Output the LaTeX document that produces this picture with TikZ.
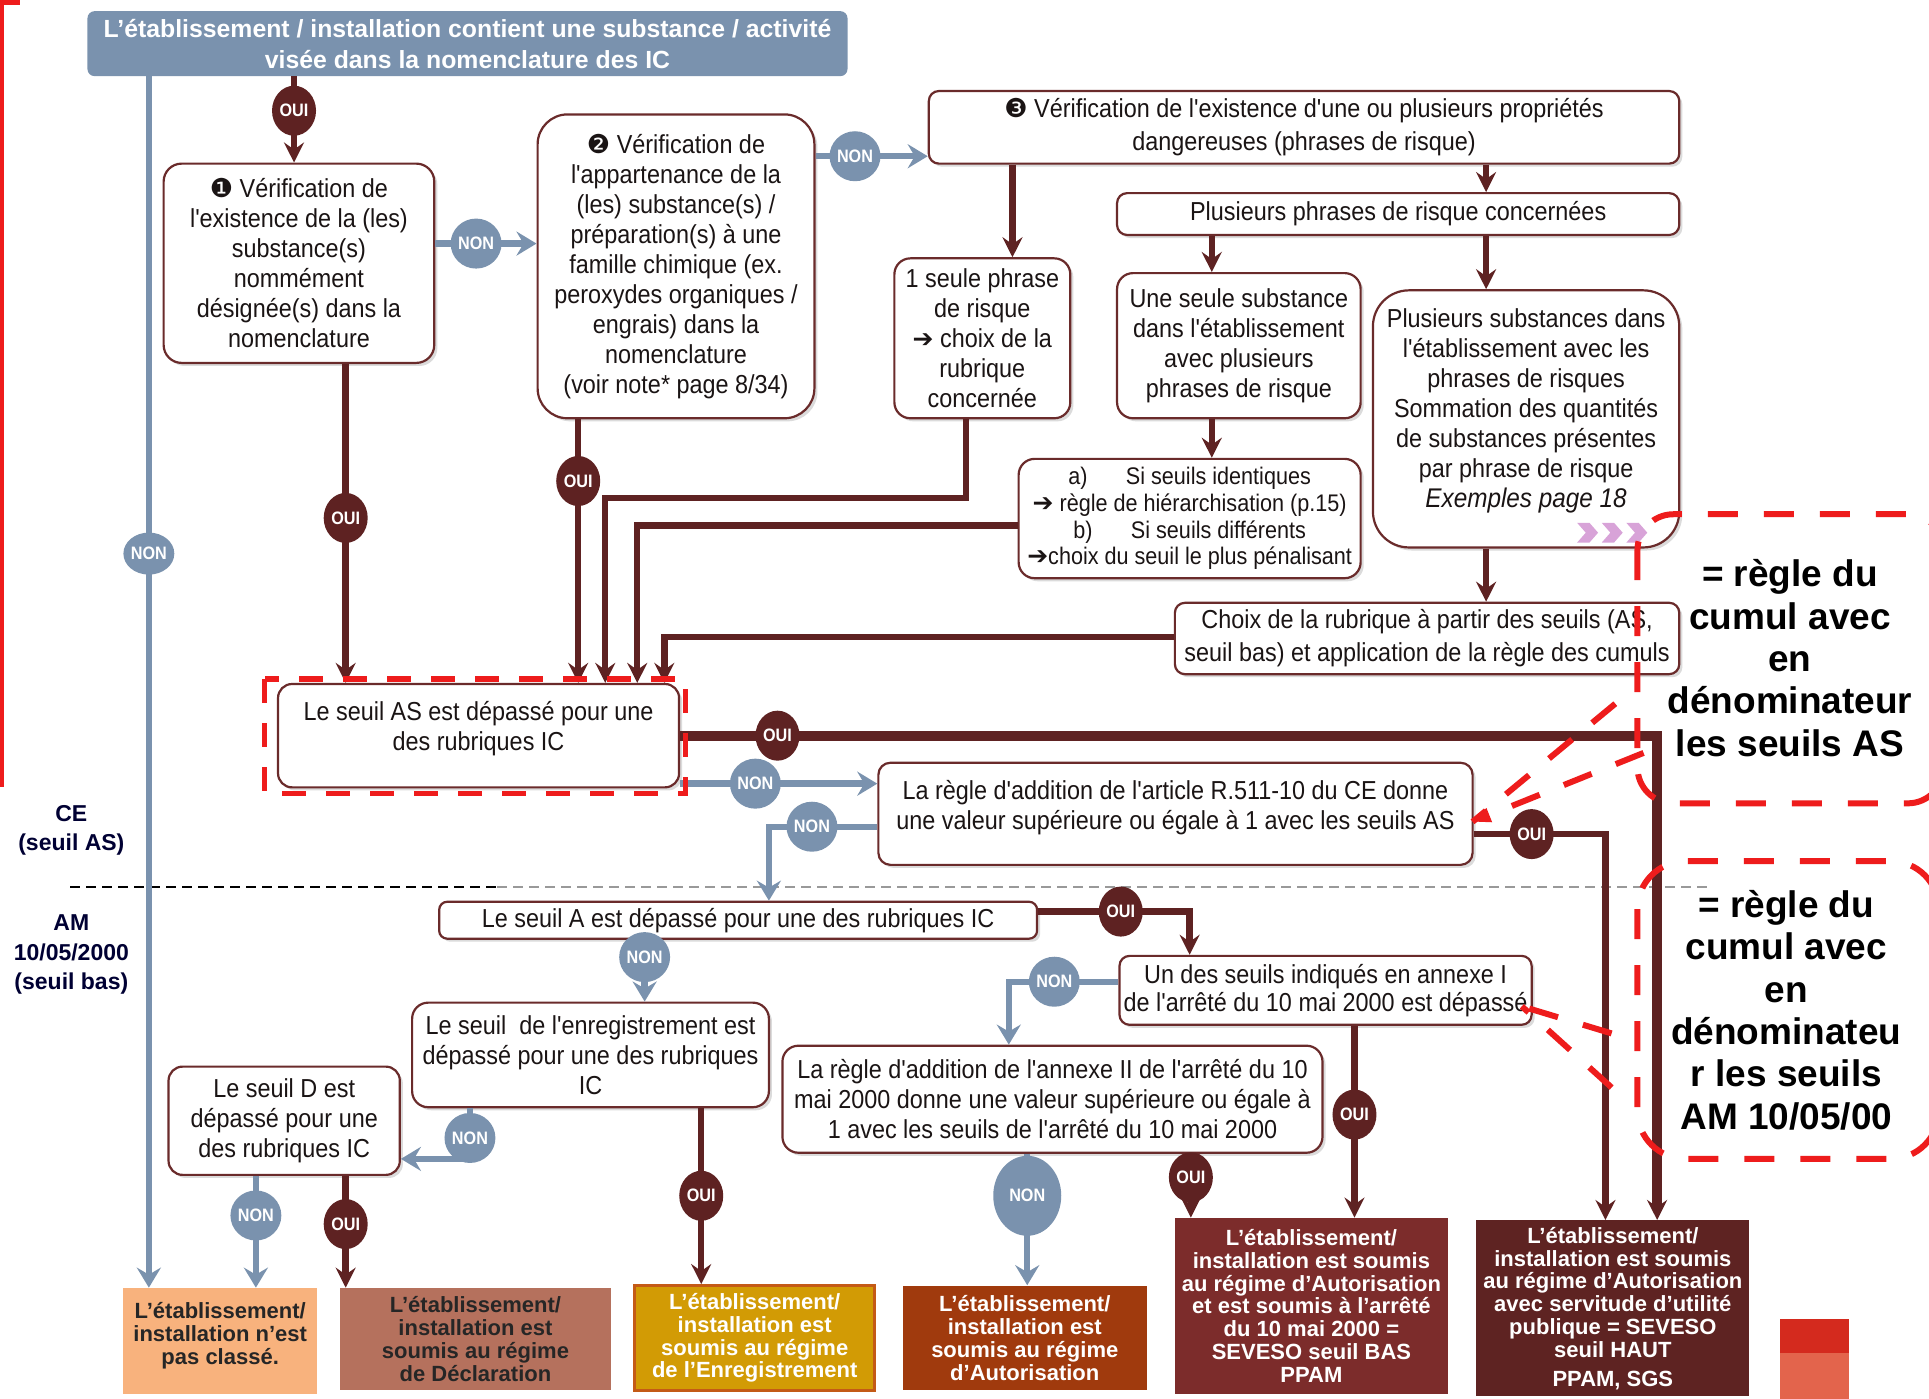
\documentclass[tikz,border=0pt]{standalone}
\usepackage{fontspec}
\setmainfont{Liberation Sans}
\newfontfamily\nar{Liberation Sans}[FakeStretch=0.9]
\newfontfamily\dvs{DejaVu Sans}
\usetikzlibrary{arrows.meta,shapes.geometric}
\definecolor{sblue}{HTML}{7A92AE}
\definecolor{dred}{HTML}{5E2222}
\definecolor{bbord}{HTML}{6A2B2B}
\definecolor{txt}{HTML}{1A1414}
\definecolor{rA}{HTML}{F8B27D}
\definecolor{rB}{HTML}{B5715D}
\definecolor{rC}{HTML}{D29B05}
\definecolor{rCb}{HTML}{C45A16}
\definecolor{rD}{HTML}{A03A0D}
\definecolor{rE}{HTML}{7C2C2B}
\definecolor{rF}{HTML}{5E2322}
\definecolor{rdash}{HTML}{EE1C1C}
\definecolor{pink}{HTML}{D8A3D8}
\definecolor{sqA}{HTML}{D42A1E}
\definecolor{sqB}{HTML}{E3644C}
\newcommand\numc[1]{{\dvs\fontsize{13}{13}\selectfont #1}}
\newcommand\rarr{{\dvs\bfseries\fontsize{12.5}{12.5}\selectfont ➔}}
\begin{document}
\begin{tikzpicture}[x=0.6151pt,y=-0.6151pt,
  rect/.style n args={4}{minimum width={(#3-#1)*0.6151pt},minimum height={(#4-#2)*0.6151pt},
    at={({(#1+#3)/2},{(#2+#4)/2})}},
  box/.style={draw=bbord,line width=1.1pt,fill=white,inner sep=0pt,align=center,
    font=\nar\fontsize{13}{15}\selectfont,text=txt,rounded corners=#1},
  box/.default=7pt,
  res/.style={inner sep=0pt,align=center,font=\bfseries\fontsize{11}{11.4}\selectfont,text=white},
  oui/.style={ellipse,fill=dred,text=white,inner sep=0pt,minimum width=22pt,minimum height=25pt,
    font=\nar\bfseries\fontsize{9}{9}\selectfont},
  non/.style={oui,fill=sblue},
  ol/.style={draw=dred,line width=3.2pt,-{Stealth[length=10pt,width=10pt,inset=3.5pt]}},
  nl/.style={draw=sblue,line width=3.2pt,-{Stealth[length=10pt,width=12pt,inset=3.5pt]}},
  cdash/.style={draw=rdash,line width=3pt,dash pattern=on 15pt off 13pt},
  lab/.style={align=center,font=\bfseries\fontsize{11.5}{14.8}\selectfont,text=black!80!blue},
  callt/.style={align=center,font=\bfseries\fontsize{18.5}{21.2}\selectfont,text=black},
  shad/.style={fill=black!14,rounded corners=#1},
]
\fill[white] (0,0) rectangle (1568,1137);
\useasboundingbox (0,0) rectangle (1568,1137);
\fill[rdash] (0,0) rectangle (3,640);
\fill[rdash] (0,0) rectangle (16,4);

% separator
\coordinate (sepL) at (57,721);
\coordinate (sepM) at (404,721);
\coordinate (sepR) at (1390,721);
\draw[black,line width=1pt,dash pattern=on 5pt off 3pt] (sepL) -- (sepM);
\draw[black!40,line width=1pt,dash pattern=on 5pt off 3pt] (sepM) -- (sepR);
\node[lab] (ce) at (58,675) {CE\\(seuil AS)};
\node[lab] (am) at (58,776) {AM\\10/05/2000\\(seuil bas)};

% box shadows
\foreach \xa/\ya/\xb/\yb/\r in {133/133/353/295/9pt, 437/93/662/340/15pt, 755/74/1365/133/5pt,
  727/210/870/340/8pt, 908/157/1365/191/5pt, 908/222/1106/340/8pt, 1116/236/1365/445/18pt,
  828/373/1106/470/8pt, 955/490/1365/548/5pt, 226/556/552/640/7pt, 714/620/1197/703/6pt,
  357/733/843/763/4pt, 910/777/1245/833/5pt, 335/815/625/900/8pt, 636/850/1075/937/8pt,
  137/867/325/955/7pt}
  \fill[shad=\r] (\xa+2.5,\ya+2.5) rectangle (\xb+2.5,\yb+2.5);

% boxes
\node[box=3pt,fill=sblue,draw=sblue,text=white,font=\bfseries\fontsize{12.4}{15.4}\selectfont,rect={72}{10}{688}{61}] (top)
  {L’établissement / installation contient une substance / activité\\visée dans la nomenclature des IC};
\node[box=9pt,rect={133}{133}{353}{295}] (b1)
  {\numc{❶} Vérification de\\l'existence de la (les)\\substance(s)\\nommément\\désignée(s) dans la\\nomenclature};
\node[box=15pt,rect={437}{93}{662}{340}] (b2)
  {\numc{❷} Vérification de\\l'appartenance de la\\(les) substance(s) /\\préparation(s) à une\\famille chimique (ex.\\peroxydes organiques /\\engrais) dans la\\nomenclature\\(voir note* page 8/34)};
\node[box=5pt,font=\nar\fontsize{13}{16.5}\selectfont,rect={755}{74}{1365}{133}] (b3)
  {\numc{❸} Vérification de l'existence d'une ou plusieurs propriétés\\dangereuses (phrases de risque)};
\node[box=8pt,rect={727}{210}{870}{340}] (b1p)
  {1 seule phrase\\de risque\\\rarr{} choix de la\\rubrique\\concernée};
\node[box=5pt,rect={908}{157}{1365}{191}] (bpp) {Plusieurs phrases de risque concernées};
\node[box=8pt,rect={908}{222}{1106}{340}] (bus)
  {Une seule substance\\dans l'établissement\\avec plusieurs\\phrases de risque};
\node[box=18pt,rect={1116}{236}{1365}{445}] (bps)
  {Plusieurs substances dans\\l'établissement avec les\\phrases de risques\\Sommation des quantités\\de substances présentes\\par phrase de risque\\{\itshape\fontsize{13.5}{15}\selectfont Exemples page 18\hspace{1.5em}}\\[-4pt]\mbox{}};
\node[box=8pt,font=\nar\fontsize{12}{13.3}\selectfont,rect={828}{373}{1106}{470}] (bab)
  {a)\hspace{1.6em}Si seuils identiques\\\rarr{} règle de hiérarchisation (p.15)\\b)\hspace{1.6em}Si seuils différents\\\rarr{}choix du seuil le plus pénalisant};
\node[box=5pt,font=\nar\fontsize{13}{16.5}\selectfont,rect={955}{490}{1365}{548}] (bch)
  {Choix de la rubrique à partir des seuils (AS,\\seuil bas) et application de la règle des cumuls};
\node[box=7pt,rect={226}{556}{552}{640}] (bas)
  {Le seuil AS est dépassé pour une\\des rubriques IC\\[-5pt]\mbox{}};
\node[box=6pt,rect={714}{620}{1197}{703}] (bra)
  {La règle d'addition de l'article R.511-10 du CE donne\\une valeur supérieure ou égale à 1 avec les seuils AS\\[-6pt]\mbox{}};
\node[box=4pt,rect={357}{733}{843}{763}] (bA) {Le seuil A est dépassé pour une des rubriques IC};
\node[box=5pt,font=\nar\fontsize{13}{14.2}\selectfont,rect={910}{777}{1245}{833}] (bun)
  {Un des seuils indiqués en annexe I\\de l'arrêté du 10 mai 2000 est dépassé};
\node[box=8pt,rect={335}{815}{625}{900}] (ben)
  {Le seuil\ \ de l'enregistrement est\\dépassé pour une des rubriques\\IC};
\node[box=8pt,rect={636}{850}{1075}{937}] (bII)
  {La règle d'addition de l'annexe II de l'arrêté du 10\\mai 2000 donne une valeur supérieure ou égale à\\1 avec les seuils de l'arrêté du 10 mai 2000};
\node[box=7pt,rect={137}{867}{325}{955}] (bD)
  {Le seuil D est\\dépassé pour une\\des rubriques IC};

% result boxes
\node[res,fill=rA,text=black!85,rect={100}{1047}{258}{1133}] (r1)
  {L’établissement/\\installation n’est\\pas classé.\\[-4pt]\mbox{}};
\node[res,fill=rB,text=black!85,rect={276}{1047}{497}{1130}] (r2)
  {L’établissement/\\installation est\\soumis au régime\\de Déclaration};
\node[res,fill=rC,draw=rCb,line width=1.5pt,rect={516}{1045}{711}{1130}] (r3)
  {L’établissement/\\installation est\\soumis au régime\\de l’Enregistrement};
\node[res,fill=rD,rect={734}{1045}{932}{1130}] (r4)
  {L’établissement/\\installation est\\soumis au régime\\d’Autorisation};
\node[res,fill=rE,rect={955}{990}{1177}{1133}] (r5)
  {L’établissement/\\installation est soumis\\au régime d’Autorisation\\et est soumis à l’arrêté\\du 10 mai 2000 =\\SEVESO seuil BAS\\PPAM};
\node[res,fill=rF,rect={1200}{992}{1422}{1135}] (r6)
  {L’établissement/\\installation est soumis\\au régime d’Autorisation\\avec servitude d’utilité\\publique = SEVESO\\seuil HAUT\\[3pt]PPAM, SGS};

% chevrons
\foreach \cx in {1282,1302,1322}
  \fill[pink] (\cx,425) -- (\cx+10,425) -- (\cx+17,433) -- (\cx+10,441) -- (\cx,441) -- (\cx+7,433) -- cycle;

% circle positions and junctions
\coordinate (o1) at (239,90);
\coordinate (o2) at (281,421);
\coordinate (o3) at (470,391);
\coordinate (o4) at (632,598);
\coordinate (o5) at (1245,678);
\coordinate (o6) at (911,741);
\coordinate (o7) at (1101,906);
\coordinate (o8) at (570,972);
\coordinate (o9) at (281,995);
\coordinate (o10) at (968,957);
\coordinate (n1) at (387,198);
\coordinate (n2) at (695,127);
\coordinate (n3) at (614,637);
\coordinate (n4) at (660,672);
\coordinate (n5) at (524,778);
\coordinate (n6) at (857,798);
\coordinate (n7) at (382,925);
\coordinate (n8) at (208,988);
\coordinate (n9) at (835,972);
\coordinate (n10) at (121,450);
\coordinate (x823) at (823,0);
\coordinate (x1208) at (1208,0);
\coordinate (x985) at (985,0);
\coordinate (j1) at (785,405);
\coordinate (j2) at (492,405);
\coordinate (j3) at (518,427);
\coordinate (j4) at (540,518);
\coordinate (j5) at (1347,598);
\coordinate (j6) at (625,672);
\coordinate (j7) at (1305,678);
\coordinate (j8) at (967,741);
\coordinate (j9) at (820,798);
\coordinate (j10) at (382,942);

% connectors
\draw[nl] (top.south -| n10) -- (r1.north -| n10);
\draw[ol] (top.south -| o1) -- (b1.north -| o1);
\draw[nl] (b1.east |- n1) -- (b2.west |- n1);
\draw[nl] (b2.east |- n2) -- (b3.west |- n2);
\draw[ol] (b3.south -| x823) -- (b1p.north -| x823);
\draw[ol] (b3.south -| x1208) -- (bpp.north -| x1208);
\draw[ol] (bpp.south -| x985) -- (bus.north -| x985);
\draw[ol] (bpp.south -| x1208) -- (bps.north -| x1208);
\draw[ol] (bus.south -| x985) -- (bab.north -| x985);
\draw[ol] (bps.south -| x1208) -- (bch.north -| x1208);
\draw[ol] (b1.south -| o2) -- (bas.north -| o2);
\draw[ol] (b2.south -| o3) -- (bas.north -| o3);
\draw[ol] (b1p.south -| j1) -- (j1) -- (j2) -- (bas.north -| j2);
\draw[ol] (bab.west |- j3) -- (j3) -- (bas.north -| j3);
\draw[ol] (bch.west |- j4) -- (j4) -- (bas.north -| j4);
\draw[ol,line width=5pt] (bas.east |- o4) -- (j5) -- (r6.north -| j5);
\draw[nl] (bas.east |- n3) -- (bra.west |- n3);
\draw[nl] (bra.west |- n4) -- (j6) -- (bA.north -| j6);
\draw[ol] (bra.east |- j7) -- (j7) -- (r6.north -| j7);
\draw[ol] (bA.east |- o6) -- (j8) -- (bun.north -| j8);
\draw[nl] (bA.south -| n5) -- (ben.north -| n5);
\draw[nl] (bun.west |- n6) -- (j9) -- (bII.north -| j9);
\draw[ol] (bun.south -| o7) -- (r5.north -| o7);
\draw[nl] (ben.south -| n7) -- (j10) -- (bD.east |- j10);
\draw[ol] (ben.south -| o8) -- (r3.north -| o8);
\draw[nl] (bD.south -| n8) -- (r1.north -| n8);
\draw[ol] (bD.south -| o9) -- (r2.north -| o9);
\draw[nl] (bII.south -| n9) -- (r4.north -| n9);
\draw[ol] (bII.south -| o10) -- (r5.north -| o10);

% circles
\node[oui] (c-o1) at (o1) {OUI};
\node[oui] (c-o2) at (o2) {OUI};
\node[oui] (c-o3) at (o3) {OUI};
\node[oui] (c-o4) at (o4) {OUI};
\node[oui] (c-o5) at (o5) {OUI};
\node[oui] (c-o6) at (o6) {OUI};
\node[oui] (c-o7) at (o7) {OUI};
\node[oui] (c-o8) at (o8) {OUI};
\node[oui] (c-o9) at (o9) {OUI};
\node[oui] (c-o10) at (o10) {OUI};
\node[non] (c-n1) at (n1) {NON};
\node[non] (c-n2) at (n2) {NON};
\node[non] (c-n3) at (n3) {NON};
\node[non] (c-n4) at (n4) {NON};
\node[non] (c-n5) at (n5) {NON};
\node[non] (c-n6) at (n6) {NON};
\node[non] (c-n7) at (n7) {NON};
\node[non] (c-n8) at (n8) {NON};
\node[non,minimum width=34pt,minimum height=40pt] (c-n9) at (n9) {NON};
\node[non,minimum width=25pt,minimum height=21pt] (c-n10) at (n10) {NON};

% red highlights
\draw[draw=rdash,line width=2.6pt,dash pattern=on 12pt off 10pt] (215,552) rectangle (557,645);
\draw[cdash,rounded corners=18pt] (1331,418) rectangle (1580,653);
\draw[cdash,rounded corners=24pt] (1331,700) rectangle (1576,942);
\coordinate (t1) at (1197,668);
\coordinate (t1a) at (1313,572);
\coordinate (t1b) at (1336,612);
\draw[cdash] (t1a) -- (t1);
\draw[cdash,-{Triangle[length=9pt,width=7pt]}] (t1b) -- (t1);
\coordinate (t2) at (1237,818);
\coordinate (t2a) at (1310,840);
\coordinate (t2b) at (1310,884);
\draw[cdash] (t2a) -- (t2);
\draw[cdash] (t2b) -- (t2);
\node[callt] (c1t) at (1455,535) {= règle du\\cumul avec\\en\\dénominateur\\les seuils AS};
\node[callt] (c2t) at (1452,821) {= règle du\\cumul avec\\en\\dénominateu\\r les seuils\\AM 10/05/00};

% corner squares
\fill[sqA] (1447,1072) rectangle (1503,1100);
\fill[sqB] (1447,1100) rectangle (1503,1137);
\end{tikzpicture}
\end{document}
